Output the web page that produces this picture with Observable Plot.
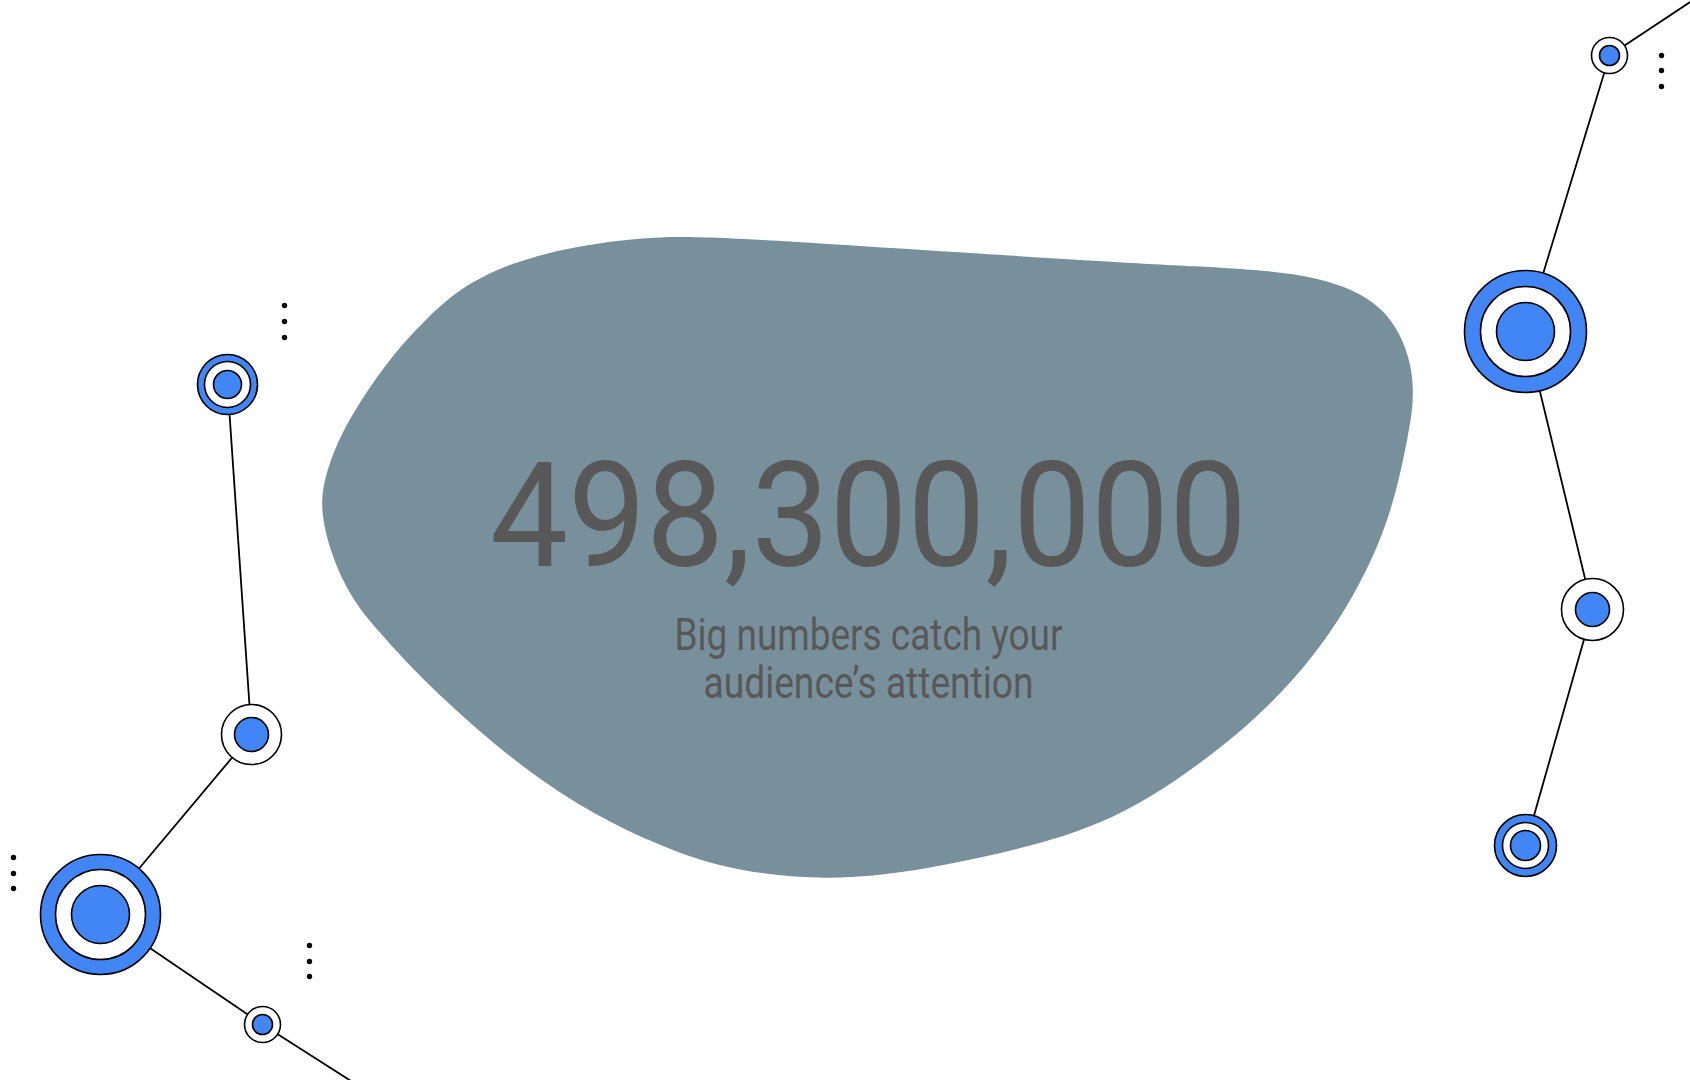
<!DOCTYPE html>
<html><head><meta charset="utf-8">
<script src="https://cdn.jsdelivr.net/npm/d3@7"></script>
<script src="https://cdn.jsdelivr.net/npm/@observablehq/plot@0.6"></script>
<style>html,body{margin:0;padding:0;background:#fff;overflow:hidden}</style>
</head><body><div id="chart"></div>
<script>
// --- data ---
const nodeX = [227, 251, 100, 262, 1609, 1525, 1592, 1525];
const nodeY = [384, 734, 914, 1024, 55, 331, 609, 845];
const outerR = [30, 30, 60, 18, 18, 61, 31, 31];
const ringR  = [23, 0, 45, 0, 0, 45, 0, 23];
const coreR  = [14, 17, 29, 10, 10, 29, 17, 15];
const outerKind = ["blue","white","blue","white","white","blue","white","blue"];

const leftChainX = [227, 251, 100, 262, 356];
const leftChainY = [384, 734, 914, 1024, 1084];
const rightChainX = [1698, 1609, 1525, 1592, 1525];
const rightChainY = [-4, 55, 331, 609, 845];

const ellipsisX = [284, 284, 284, 13, 13, 13, 309, 309, 309, 1661, 1661, 1661];
const ellipsisY = [305, 321, 337, 857, 873, 888, 945, 961, 976, 55, 70, 86];

const blobX = [510, 577, 643, 700, 900, 1100, 1200, 1267, 1317, 1360, 1387, 1403, 1412, 1413, 1408, 1398, 1383, 1360, 1330, 1293, 1250, 1200, 1150, 1100, 1050, 1000, 915, 830, 743, 677, 610, 543, 477, 420, 377, 350, 330, 320, 323, 337, 360, 393, 427, 460];
const blobY = [262, 245, 237, 235, 248, 261, 266, 270, 277, 292, 313, 340, 370, 403, 433, 483, 533, 583, 633, 680, 723, 763, 797, 823, 840, 853, 871, 880, 872, 853, 823, 783, 730, 677, 630, 597, 553, 510, 480, 440, 400, 353, 317, 287];

const headline = "498,300,000";
const subtitleLines = ["Big numbers catch your", "audience\u2019s attention"];

// --- build tables ---
const BLUE = "#4285f4";
const blob = blobX.map((x, i) => ({x, y: blobY[i]}));
const leftChain = leftChainX.map((x, i) => ({x, y: leftChainY[i]}));
const rightChain = rightChainX.map((x, i) => ({x, y: rightChainY[i]}));
const nodes = nodeX.map((x, i) => ({x, y: nodeY[i], outer: outerR[i], ring: ringR[i], core: coreR[i],
  fill: outerKind[i] === "blue" ? BLUE : "#ffffff"}));
const dots = ellipsisX.map((x, i) => ({x, y: ellipsisY[i]}));
const texts = [
  {t: headline, x: 868, y: 565, size: 146, w: 757, weight: 400},
  {t: subtitleLines[0], x: 868, y: 649, size: 44, w: 388, weight: 400},
  {t: subtitleLines[1], x: 868, y: 697, size: 44, w: 330, weight: 400}
];

const chart = Plot.plot({
  width: 1690, height: 1080, margin: 0,
  x: {domain: [0, 1690], range: [0, 1690], axis: null},
  y: {domain: [0, 1080], range: [0, 1080], axis: null},
  r: {type: "identity"},
  color: {type: "identity"},
  style: {background: "#fff"},
  marks: [
    Plot.line(blob, {x: "x", y: "y", curve: "basis-closed", fill: "#78909c", stroke: "none"}),
    Plot.line(leftChain, {x: "x", y: "y", stroke: "#000", strokeWidth: 1.8}),
    Plot.line(rightChain, {x: "x", y: "y", stroke: "#000", strokeWidth: 1.8}),
    Plot.dot(nodes, {x: "x", y: "y", r: "outer", fill: "fill", stroke: "#000", strokeWidth: 1.6}),
    Plot.dot(nodes, {x: "x", y: "y", r: "ring", fill: "#ffffff", stroke: "#000", strokeWidth: 1.6}),
    Plot.dot(nodes, {x: "x", y: "y", r: "core", fill: BLUE, stroke: "#000", strokeWidth: 1.6}),
    Plot.dot(dots, {x: "x", y: "y", r: 2.7, fill: "#000", stroke: "none"}),
    ...texts.map(d => Plot.text([d], {x: "x", y: "y", text: "t", fontSize: d.size, fontWeight: d.weight,
      fontFamily: "Roboto, 'Noto Sans', sans-serif", fill: "#585858", textAnchor: "middle", lineAnchor: "bottom"}))
  ]
});
document.getElementById("chart").appendChild(chart);
const widths = new Map(texts.map(d => [d.t, d.w]));
d3.select(chart).selectAll("text").each(function() {
  const w = widths.get(this.textContent);
  if (w) d3.select(this).attr("textLength", w).attr("lengthAdjust", "spacingAndGlyphs");
});
</script>
</body></html>
